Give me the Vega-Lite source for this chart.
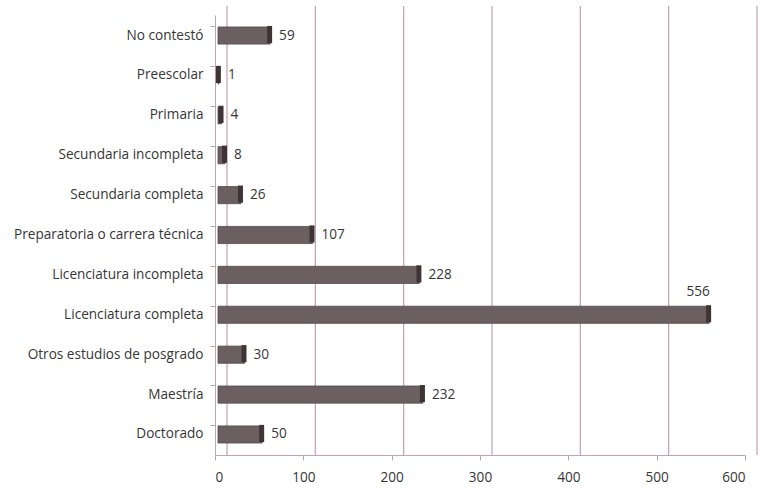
{
  "$schema": "https://vega.github.io/schema/vega-lite/v6.json",
  "autosize": {"type": "none"},
  "width": 530,
  "height": 440,
  "padding": {"left": 215, "top": 15, "right": 16, "bottom": 33},
  "background": "white",
  "config": {
    "view": {"stroke": null},
    "font": "Open Sans",
    "text": {"font": "Open Sans"}
  },
  "datasets": {
    "bars": [
      {"nivel": "No contestó", "n": 59},
      {"nivel": "Preescolar", "n": 1},
      {"nivel": "Primaria", "n": 4},
      {"nivel": "Secundaria incompleta", "n": 8},
      {"nivel": "Secundaria completa", "n": 26},
      {"nivel": "Preparatoria o carrera técnica", "n": 107},
      {"nivel": "Licenciatura incompleta", "n": 228},
      {"nivel": "Licenciatura completa", "n": 556},
      {"nivel": "Otros estudios de posgrado", "n": 30},
      {"nivel": "Maestría", "n": 232},
      {"nivel": "Doctorado", "n": 50}
    ],
    "grid": [
      {"g": 0}, {"g": 100}, {"g": 200}, {"g": 300}, {"g": 400}, {"g": 500}, {"g": 600}
    ]
  },
  "layer": [
    {
      "data": {"name": "grid"},
      "mark": {"type": "rule", "color": "#c2a0a9", "strokeWidth": 1.2, "xOffset": 12, "yOffset": -9, "y2Offset": -9},
      "encoding": {
        "x": {"field": "g", "type": "quantitative", "scale": {"domain": [0, 600]}}
      }
    },
    {
      "data": {"name": "bars"},
      "mark": {"type": "bar", "color": "#6b5f62", "stroke": "#544a4d", "strokeWidth": 0.8, "xOffset": 3, "x2Offset": 0},
      "encoding": {
        "y": {
          "field": "nivel", "type": "nominal", "sort": null, "title": null,
          "scale": {"paddingInner": 0.57, "paddingOuter": 0.3},
          "axis": {
            "bandPosition": 0,
            "domainColor": "#c4a3ab",
            "tickColor": "#c4a3ab",
            "tickSize": 5,
            "labelPadding": 7,
            "labelFont": "Open Sans",
            "labelFontSize": 13.6,
            "labelColor": "#363636",
            "labelLimit": 300
          }
        },
        "x": {
          "field": "n", "type": "quantitative", "title": null,
          "scale": {"domain": [0, 600]},
          "axis": {
            "values": [0, 100, 200, 300, 400, 500, 600],
            "grid": false,
            "domainColor": "#c4a3ab",
            "tickColor": "#c4a3ab",
            "tickSize": 5,
            "labelPadding": 10,
            "labelFont": "Open Sans",
            "labelFontSize": 13.6,
            "labelColor": "#363636"
          }
        }
      }
    },
    {
      "data": {"name": "bars"},
      "mark": {"type": "bar", "color": "#3e3436", "xOffset": 0, "x2Offset": 5, "yOffset": -1},
      "encoding": {
        "y": {"field": "nivel", "type": "nominal", "sort": null},
        "x": {"field": "n", "type": "quantitative"},
        "x2": {"field": "n"}
      }
    },
    {
      "data": {"name": "bars"},
      "transform": [{"filter": "datum.n < 500"}],
      "mark": {"type": "text", "align": "left", "baseline": "middle", "dx": 12, "font": "Open Sans", "fontSize": 13.6, "color": "#363636"},
      "encoding": {
        "y": {"field": "nivel", "type": "nominal", "sort": null},
        "x": {"field": "n", "type": "quantitative"},
        "text": {"field": "n", "type": "quantitative"}
      }
    },
    {
      "data": {"name": "bars"},
      "transform": [{"filter": "datum.n >= 500"}],
      "mark": {"type": "text", "align": "center", "baseline": "middle", "dx": -8, "dy": -23, "font": "Open Sans", "fontSize": 13.6, "color": "#363636"},
      "encoding": {
        "y": {"field": "nivel", "type": "nominal", "sort": null},
        "x": {"field": "n", "type": "quantitative"},
        "text": {"field": "n", "type": "quantitative"}
      }
    }
  ]
}
